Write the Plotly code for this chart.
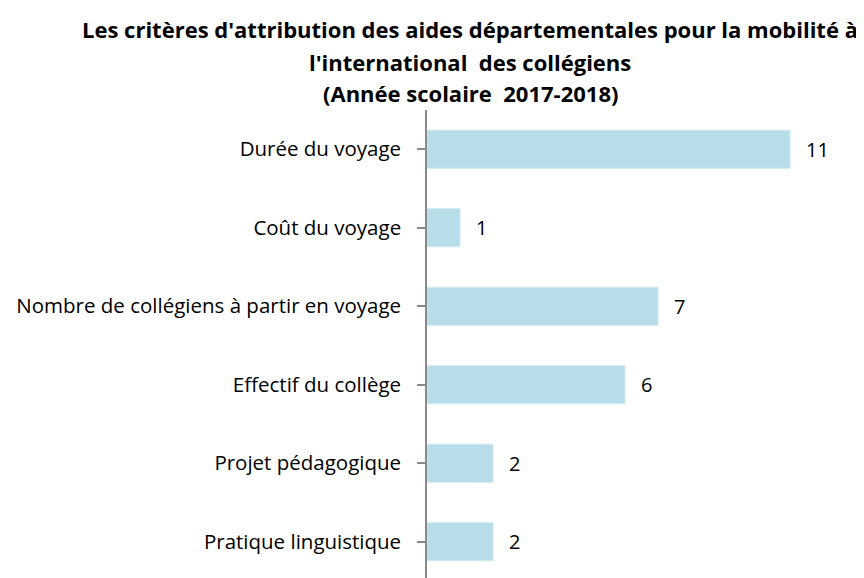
import plotly.graph_objects as go

categories = ["Pratique linguistique", "Projet pédagogique", "Effectif du collège",
              "Nombre de collégiens à partir en voyage", "Coût du voyage", "Durée du voyage"]
values = [2, 2, 6, 7, 1, 11]
title_lines = ["Les critères d'attribution des aides départementales pour la mobilité à",
               "l'international  des collégiens",
               "(Année scolaire  2017-2018)"]

FONT = "Open Sans"
W, H = 864, 578
L, R, T, B = 419, 16, 102, 0
PW, PH = W - L - R, H - T - B

fig = go.Figure()
fig.add_trace(go.Bar(
    x=values, y=categories, orientation="h",
    marker=dict(color="#B7DDE8", line=dict(color="#CFE9F0", width=1)),
    width=0.485, hoverinfo="skip",
))
for v, c in zip(values, categories):
    fig.add_annotation(x=v, y=c, text=str(v), showarrow=False, xanchor="left",
                       xshift=14, font=dict(family=FONT, size=20, color="#000000"))

# title lines (figure pixel centres)
title_cx = 462
title_cy = [21, 54, 85]
for line, cy in zip(title_lines, title_cy):
    fig.add_annotation(xref="paper", yref="paper",
                       x=(title_cx - L) / PW, y=1 + (T - cy) / PH,
                       xanchor="center", yanchor="middle", showarrow=False,
                       text="<b>" + line + "</b>",
                       font=dict(family=FONT, size=22, color="#000000"))

fig.update_layout(
    width=W, height=H,
    margin=dict(l=L, r=R, t=T, b=B),
    paper_bgcolor="white", plot_bgcolor="white",
    showlegend=False,
    xaxis=dict(range=[0, 13], visible=False),
    yaxis=dict(type="category", categoryarray=categories, range=[-0.564, 5.5],
               showline=True, linecolor="#898989", linewidth=1.5,
               ticks="outside", ticklen=8, tickcolor="#898989", tickwidth=1.5,
               showgrid=False, zeroline=False,
               tickfont=dict(family=FONT, size=20.5, color="#000000"), ticklabelstandoff=12),
)
fig.write_html("out.html")
